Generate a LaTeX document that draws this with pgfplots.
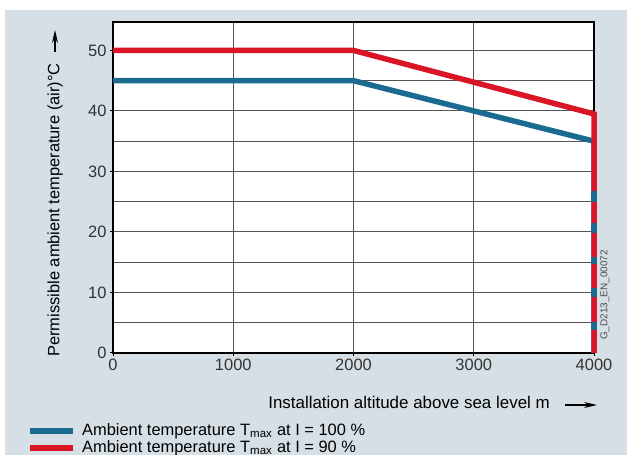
\documentclass[border=0pt]{standalone}
\usepackage{fontspec}
\setmainfont{Liberation Sans}
\usepackage{pgfplots}
\pgfplotsset{compat=1.18}
\usetikzlibrary{arrows.meta}
\definecolor{bg}{RGB}{214,223,229}
\definecolor{sred}{RGB}{218,22,38}
\definecolor{sblue}{RGB}{26,107,143}
\definecolor{gridc}{RGB}{85,85,85}
\newcommand{\fs}{\fontsize{16.5}{19}\selectfont}
\begin{document}
\begin{tikzpicture}[x=1bp,y=1bp]
\useasboundingbox (0,0) rectangle (627,455);
\fill[bg] (5,0) rectangle (627,445);
\begin{axis}[
  at={(113bp,102bp)}, anchor=south west,
  scale only axis, width=481bp, height=331bp,
  xmin=0, xmax=4000, ymin=0, ymax=54.7,
  axis background/.style={fill=white},
  clip=false,
  xtick={0,1000,2000,3000,4000},
  ytick={0,10,20,30,40,50},
  minor ytick={5,15,25,35,45},
  grid=both,
  major grid style={gridc, line width=1bp},
  minor grid style={gridc, line width=1bp},
  axis line style={black, line width=1.2bp},
  xtick pos=bottom, ytick pos=left,
  tick align=outside, major tick length=3bp, minor tick length=0pt,
  tick style={black, line width=1bp},
  tick label style={font=\fs, text=black!80},
  scaled ticks=false,
  /pgf/number format/1000 sep={},
  /pgf/number format/assume math mode=true,
  unbounded coords=jump,
  legend style={at={(-0.179,-0.211)}, anchor=north west, draw=none, fill=none,
    inner sep=0pt, font=\fs, row sep=1bp,
    nodes={inner sep=1bp, text height=11bp, text depth=3bp}},
  legend cell align=left,
  legend image code/.code={\draw[#1, line width=6bp] (0bp,0bp) -- (43bp,0bp);},
  /tikz/every odd column/.append style={column sep=5bp},
]
\addplot[sblue, line width=5.5bp] coordinates {(0,45) (2000,45) (4000,35) (4000,0)};
\addlegendentry{Ambient temperature T\textsubscript{max} at I = 100 \%}
\addplot[sred, line width=5.5bp] coordinates {(0,50) (2000,50) (4000,39.5) (4000,0)};
\addlegendentry{Ambient temperature T\textsubscript{max} at I = 90 \%}
\addplot[sblue, line width=5.5bp, forget plot] coordinates {
  (4000,26.7) (4000,24.9) (4000,nan)
  (4000,21.4) (4000,19.8) (4000,nan)
  (4000,15.8) (4000,14.7) (4000,nan)
  (4000,10.7) (4000,9.2) (4000,nan)
  (4000,5.1) (4000,3.8)};
\end{axis}
\node[anchor=east, inner sep=0pt, font=\fontsize{17}{20}\selectfont] at (550,53) {Installation altitude above sea level m};
\draw[-{Stealth[length=13bp,width=6bp]}, line width=1.2bp] (565,50) -- (597,50);
\node[rotate=90, anchor=east, inner sep=0pt, font=\fs] at (55,392) {Permissible ambient temperature (air)°C};
\draw[-{Stealth[length=13bp,width=6bp]}, line width=1.2bp] (55,403) -- (55,425);
\node[rotate=90, inner sep=0pt, font=\fontsize{10}{12}\selectfont, text=black!70] at (605,160) {G\_D213\_EN\_00072};
\end{tikzpicture}
\end{document}
